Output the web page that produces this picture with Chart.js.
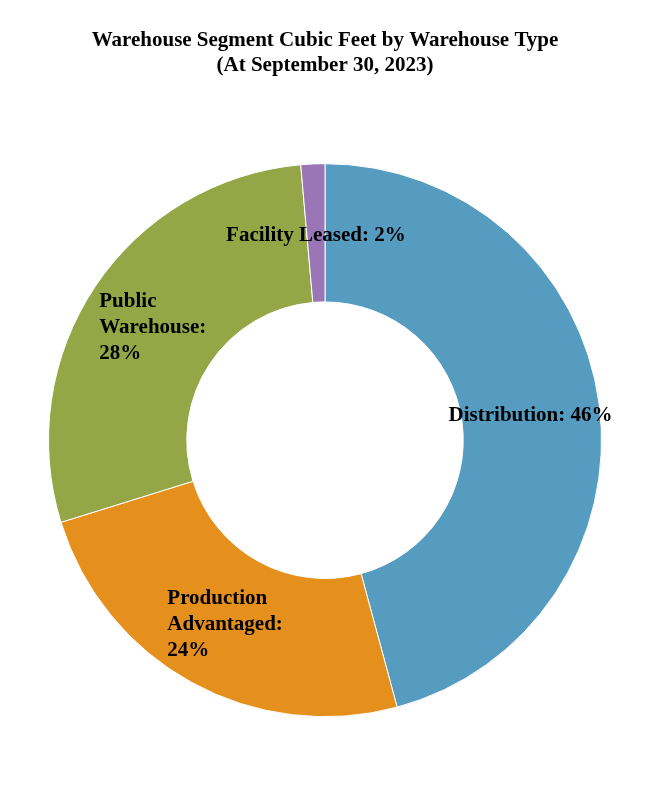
<!DOCTYPE html>
<html>
<head>
<meta charset="utf-8">
<script src="https://cdn.jsdelivr.net/npm/chart.js@4"></script>
<style>
  html, body { margin: 0; padding: 0; background: #fff; }
  #wrap { width: 650px; height: 800px; }
</style>
</head>
<body>
<div id="wrap"><canvas id="myChart"></canvas></div>
<script>
const categories = ['Distribution', 'Production Advantaged', 'Public Warehouse', 'Facility Leased'];
const shares = [45.8, 24.4, 28.4, 1.4];
const shareLabels = ['46%', '24%', '28%', '2%'];
// how each label wraps on the slice
const labelLines = [
    ['Distribution: 46%'],
    ['Production', 'Advantaged:', '24%'],
    ['Public', 'Warehouse:', '28%'],
    ['Facility Leased: 2%']
];
const colors = ['#569bc0', '#e5901d', '#94a646', '#9a76b6'];

const sliceLabels = {
    id: 'sliceLabels',
    afterDatasetsDraw(chart) {
        const ctx = chart.ctx;
        const meta = chart.getDatasetMeta(0);
        ctx.save();
        ctx.font = 'bold 21px "Liberation Serif", "Times New Roman", serif';
        ctx.fillStyle = '#000';
        ctx.textBaseline = 'middle';
        ctx.textAlign = 'left';
        const lh = 26;
        meta.data.forEach((arc, i) => {
            const pos = arc.tooltipPosition();
            const lines = labelLines[i];
            let w = 0;
            for (let l of lines) w = Math.max(w, ctx.measureText(l).width);
            const x0 = pos.x - w / 2;
            lines.forEach((l, k) => {
                ctx.fillText(l, x0, pos.y + 3 + (k - (lines.length - 1) / 2) * lh);
            });
        });
        ctx.restore();
    }
};

const data = {
    labels: categories,
    datasets: [{
        data: shares,
        backgroundColor: colors,
        borderColor: '#ffffff',
        borderWidth: 1,
        hoverOffset: 0
    }]
};

const config = {
    type: 'doughnut',
    data: data,
    options: {
        responsive: true,
        maintainAspectRatio: false,
        animation: false,
        cutout: '50%',
        layout: { padding: { left: 48, right: 48, top: 0, bottom: 70 } },
        plugins: {
            legend: { display: false },
            tooltip: { enabled: false },
            title: {
                display: true,
                text: ['Warehouse Segment Cubic Feet by Warehouse Type', '(At September 30, 2023)'],
                color: '#000',
                font: { family: '"Liberation Serif", "Times New Roman", serif', size: 21, weight: 'bold', lineHeight: 1.2 },
                padding: { top: 28, bottom: 72 }
            }
        }
    },
    plugins: [sliceLabels]
};

new Chart(document.getElementById('myChart'), config);
</script>
</body>
</html>
